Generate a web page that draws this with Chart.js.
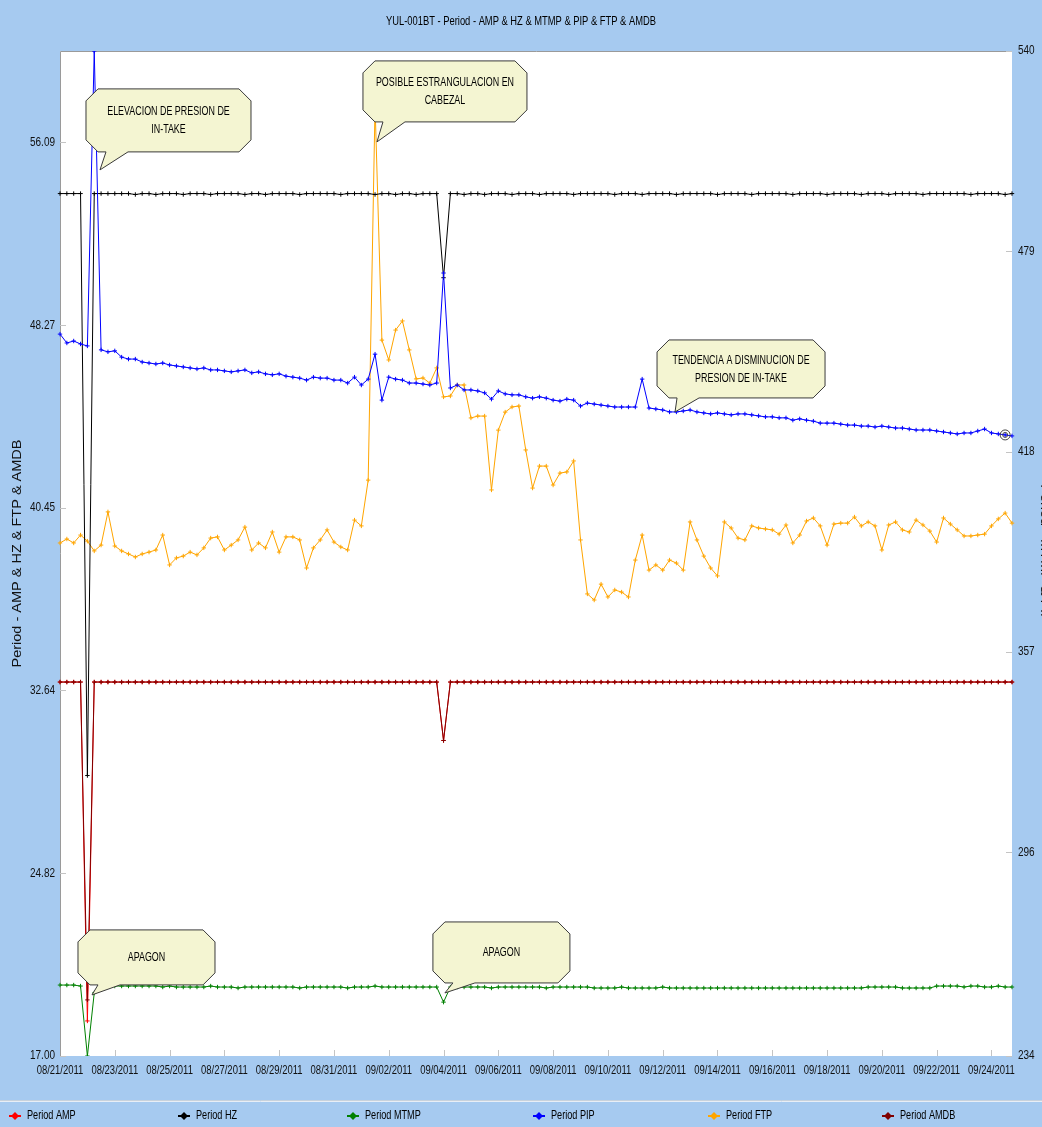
<!DOCTYPE html>
<html>
<head>
<meta charset="utf-8">
<title>YUL-001BT - Period</title>
<script src="https://cdn.jsdelivr.net/npm/chart.js@4.4.1/dist/chart.umd.min.js"></script>
<style>
  html, body { margin: 0; padding: 0; background: #a6caf0; }
  canvas { display: block; }
</style>
</head>
<body>
<canvas id="chart" width="1042" height="1127"></canvas>
<script>
// x categories: one reading every 6 hours
const days = ['08/21/2011','08/22/2011','08/23/2011','08/24/2011','08/25/2011','08/26/2011','08/27/2011',
  '08/28/2011','08/29/2011','08/30/2011','08/31/2011','09/01/2011','09/02/2011','09/03/2011','09/04/2011',
  '09/05/2011','09/06/2011','09/07/2011','09/08/2011','09/09/2011','09/10/2011','09/11/2011','09/12/2011',
  '09/13/2011','09/14/2011','09/15/2011','09/16/2011','09/17/2011','09/18/2011','09/19/2011','09/20/2011',
  '09/21/2011','09/22/2011','09/23/2011','09/24/2011'];
const hours = ['00:00', '06:00', '12:00', '18:00'];

const leftTicks = [17.00, 24.82, 32.64, 40.45, 48.27, 56.09];
const rightTicks = [234, 296, 357, 418, 479, 540];

// left axis series
const amp = [
  33.0, 33.0, 33.0, 33.0, 18.5, 33.0, 33.0, 33.0, 33.0, 33.0,
  33.0, 33.0, 33.0, 33.0, 33.0, 33.0, 33.0, 33.0, 33.0, 33.0,
  33.0, 33.0, 33.0, 33.0, 33.0, 33.0, 33.0, 33.0, 33.0, 33.0,
  33.0, 33.0, 33.0, 33.0, 33.0, 33.0, 33.0, 33.0, 33.0, 33.0,
  33.0, 33.0, 33.0, 33.0, 33.0, 33.0, 33.0, 33.0, 33.0, 33.0,
  33.0, 33.0, 33.0, 33.0, 33.0, 33.0, 30.5, 33.0, 33.0, 33.0,
  33.0, 33.0, 33.0, 33.0, 33.0, 33.0, 33.0, 33.0, 33.0, 33.0,
  33.0, 33.0, 33.0, 33.0, 33.0, 33.0, 33.0, 33.0, 33.0, 33.0,
  33.0, 33.0, 33.0, 33.0, 33.0, 33.0, 33.0, 33.0, 33.0, 33.0,
  33.0, 33.0, 33.0, 33.0, 33.0, 33.0, 33.0, 33.0, 33.0, 33.0,
  33.0, 33.0, 33.0, 33.0, 33.0, 33.0, 33.0, 33.0, 33.0, 33.0,
  33.0, 33.0, 33.0, 33.0, 33.0, 33.0, 33.0, 33.0, 33.0, 33.0,
  33.0, 33.0, 33.0, 33.0, 33.0, 33.0, 33.0, 33.0, 33.0, 33.0,
  33.0, 33.0, 33.0, 33.0, 33.0, 33.0, 33.0, 33.0, 33.0, 33.0
];
const hz = [
  53.9, 53.9, 53.9, 53.9, 29.0, 53.9, 53.9, 53.9, 53.9, 53.9,
  53.9, 53.86, 53.9, 53.9, 53.86, 53.9, 53.9, 53.9, 53.86, 53.9,
  53.9, 53.9, 53.86, 53.9, 53.9, 53.9, 53.9, 53.86, 53.9, 53.9,
  53.86, 53.9, 53.9, 53.9, 53.9, 53.86, 53.9, 53.9, 53.9, 53.9,
  53.9, 53.86, 53.9, 53.9, 53.9, 53.9, 53.86, 53.9, 53.9, 53.86,
  53.9, 53.9, 53.86, 53.9, 53.9, 53.9, 50.3, 53.9, 53.9, 53.86,
  53.9, 53.9, 53.86, 53.9, 53.9, 53.9, 53.86, 53.9, 53.9, 53.9,
  53.86, 53.9, 53.9, 53.9, 53.9, 53.86, 53.9, 53.9, 53.9, 53.9,
  53.9, 53.86, 53.9, 53.9, 53.9, 53.86, 53.9, 53.9, 53.9, 53.9,
  53.86, 53.9, 53.9, 53.9, 53.9, 53.9, 53.86, 53.9, 53.9, 53.9,
  53.9, 53.86, 53.9, 53.9, 53.9, 53.9, 53.9, 53.86, 53.9, 53.9,
  53.9, 53.9, 53.86, 53.9, 53.9, 53.9, 53.9, 53.86, 53.9, 53.9,
  53.9, 53.86, 53.9, 53.9, 53.9, 53.9, 53.86, 53.9, 53.9, 53.9,
  53.9, 53.9, 53.9, 53.86, 53.9, 53.9, 53.9, 53.9, 53.86, 53.9
];
const ftp = [
  38.95, 39.12, 38.95, 39.29, 39.03, 38.61, 38.86, 40.28, 38.82, 38.61,
  38.48, 38.35, 38.48, 38.56, 38.65, 39.29, 38.01, 38.31, 38.39, 38.56,
  38.44, 38.74, 39.16, 39.21, 38.65, 38.86, 39.08, 39.63, 38.65, 38.95,
  38.74, 39.42, 38.56, 39.21, 39.21, 39.08, 37.88, 38.74, 39.08, 39.51,
  38.99, 38.78, 38.65, 39.93, 39.68, 41.64, 57.69, 47.63, 46.78, 48.06,
  48.45, 47.21, 45.97, 46.01, 45.79, 46.44, 45.20, 45.24, 45.71, 45.71,
  44.30, 44.38, 44.38, 41.22, 43.78, 44.55, 44.77, 44.81, 42.93, 41.30,
  42.24, 42.24, 41.43, 41.94, 41.99, 42.46, 39.08, 36.77, 36.51, 37.19,
  36.64, 36.94, 36.85, 36.64, 38.22, 39.29, 37.79, 38.01, 37.79, 38.22,
  38.09, 37.79, 39.85, 39.08, 38.39, 37.88, 37.54, 39.85, 39.59, 39.16,
  39.08, 39.68, 39.59, 39.55, 39.51, 39.33, 39.72, 38.95, 39.29, 39.89,
  40.02, 39.68, 38.86, 39.76, 39.80, 39.80, 40.06, 39.68, 39.85, 39.68,
  38.65, 39.72, 39.85, 39.51, 39.42, 39.93, 39.72, 39.46, 38.99, 40.02,
  39.76, 39.51, 39.25, 39.25, 39.29, 39.33, 39.68, 39.98, 40.23, 39.80
];
const amdb = [
  33.0, 33.0, 33.0, 33.0, 19.4, 33.0, 33.0, 33.0, 33.0, 33.0,
  33.0, 33.0, 33.0, 33.0, 33.0, 33.0, 33.0, 33.0, 33.0, 33.0,
  33.0, 33.0, 33.0, 33.0, 33.0, 33.0, 33.0, 33.0, 33.0, 33.0,
  33.0, 33.0, 33.0, 33.0, 33.0, 33.0, 33.0, 33.0, 33.0, 33.0,
  33.0, 33.0, 33.0, 33.0, 33.0, 33.0, 33.0, 33.0, 33.0, 33.0,
  33.0, 33.0, 33.0, 33.0, 33.0, 33.0, 30.5, 33.0, 33.0, 33.0,
  33.0, 33.0, 33.0, 33.0, 33.0, 33.0, 33.0, 33.0, 33.0, 33.0,
  33.0, 33.0, 33.0, 33.0, 33.0, 33.0, 33.0, 33.0, 33.0, 33.0,
  33.0, 33.0, 33.0, 33.0, 33.0, 33.0, 33.0, 33.0, 33.0, 33.0,
  33.0, 33.0, 33.0, 33.0, 33.0, 33.0, 33.0, 33.0, 33.0, 33.0,
  33.0, 33.0, 33.0, 33.0, 33.0, 33.0, 33.0, 33.0, 33.0, 33.0,
  33.0, 33.0, 33.0, 33.0, 33.0, 33.0, 33.0, 33.0, 33.0, 33.0,
  33.0, 33.0, 33.0, 33.0, 33.0, 33.0, 33.0, 33.0, 33.0, 33.0,
  33.0, 33.0, 33.0, 33.0, 33.0, 33.0, 33.0, 33.0, 33.0, 33.0
];

// right axis series
const mtmp = [
  255.6, 255.6, 255.6, 255.3, 234.0, 253.2, 255.6, 255.6, 255.3, 255.3,
  255.3, 255.3, 255.3, 255.3, 255.3, 255.0, 255.3, 255.0, 255.0, 255.0,
  255.0, 255.0, 255.3, 255.0, 255.0, 255.0, 254.7, 255.0, 255.0, 255.0,
  255.0, 255.0, 255.0, 255.0, 255.0, 254.7, 255.0, 255.0, 255.0, 255.0,
  255.0, 255.0, 254.7, 255.0, 255.0, 255.0, 255.3, 255.0, 255.0, 255.0,
  255.0, 255.0, 255.0, 255.0, 255.0, 255.0, 250.4, 255.0, 255.0, 255.0,
  255.0, 255.0, 255.0, 254.7, 255.0, 255.0, 255.0, 255.0, 255.0, 255.0,
  255.0, 254.7, 255.0, 255.0, 255.0, 255.0, 255.0, 255.0, 254.7, 254.7,
  254.7, 254.7, 255.0, 254.7, 254.7, 254.7, 254.7, 254.7, 255.0, 254.7,
  254.7, 254.7, 254.7, 254.7, 254.7, 254.7, 254.7, 254.7, 254.7, 254.7,
  254.7, 254.7, 254.7, 254.7, 254.7, 254.7, 254.7, 254.7, 254.7, 254.7,
  254.7, 254.7, 254.7, 254.7, 254.7, 254.7, 254.7, 254.7, 255.0, 255.0,
  255.0, 255.0, 255.0, 254.7, 254.7, 254.7, 254.7, 254.7, 255.3, 255.3,
  255.3, 255.3, 255.0, 255.3, 255.3, 255.0, 255.0, 255.3, 255.0, 255.0
];
const pip = [
  453.8, 451.1, 451.7, 450.8, 450.2, 540.0, 449.0, 448.4, 448.7, 446.8,
  446.2, 446.2, 445.3, 445.0, 444.7, 445.0, 444.4, 444.1, 443.8, 443.5,
  443.2, 443.5, 442.9, 442.9, 442.6, 442.3, 442.6, 442.9, 442.0, 442.3,
  441.7, 441.4, 441.7, 441.0, 440.7, 440.4, 439.8, 440.7, 440.4, 440.4,
  439.8, 439.8, 438.9, 440.7, 438.3, 440.1, 447.7, 433.7, 440.7, 440.1,
  439.8, 438.9, 438.9, 438.6, 438.3, 438.9, 472.4, 437.4, 438.3, 436.8,
  436.8, 436.5, 435.9, 434.0, 436.5, 435.6, 435.3, 435.3, 434.7, 434.3,
  434.7, 434.3, 433.7, 433.4, 434.0, 433.7, 431.9, 432.8, 432.5, 432.2,
  431.9, 431.6, 431.6, 431.6, 431.6, 440.1, 431.3, 431.0, 430.7, 430.1,
  430.1, 430.4, 430.7, 430.1, 429.8, 429.5, 429.8, 429.5, 429.2, 429.5,
  429.5, 429.2, 428.9, 428.6, 428.6, 428.3, 428.3, 427.6, 428.0, 427.6,
  427.3, 426.7, 426.7, 426.7, 426.4, 426.1, 426.1, 425.8, 425.8, 425.5,
  425.8, 425.5, 425.2, 425.2, 424.9, 424.6, 424.6, 424.6, 424.3, 424.0,
  423.7, 423.4, 423.7, 423.7, 424.3, 424.9, 423.7, 423.4, 423.1, 422.8
];

const labels = days.flatMap(d => hours.map(h => d + ' ' + h));

const series = [
  { label: 'Period AMP',  data: amp,  color: '#ff0000', axis: 'yL', order: 5 },
  { label: 'Period HZ',   data: hz,   color: '#000000', axis: 'yL', order: 2 },
  { label: 'Period MTMP', data: mtmp, color: '#008000', axis: 'yR', order: 3 },
  { label: 'Period PIP',  data: pip,  color: '#0000ff', axis: 'yR', order: 0 },
  { label: 'Period FTP',  data: ftp,  color: '#ffa500', axis: 'yL', order: 4 },
  { label: 'Period AMDB', data: amdb, color: '#800000', axis: 'yL', order: 1 }
];

// callouts: tip anchored on the scales, box offset from the tip
const notes = [
  { lines: ['ELEVACION DE PRESION DE', 'IN-TAKE'], at: 5.84, axis: 'yR', value: 503.8, box: [-14, -81, 165, 63] },
  { lines: ['POSIBLE ESTRANGULACION EN', 'CABEZAL'], at: 46.28, axis: 'yL', value: 56.11, box: [-14, -81, 164, 61] },
  { lines: ['TENDENCIA A DISMINUCION DE', 'PRESION DE IN-TAKE'], at: 89.8, axis: 'yR', value: 430.1, box: [-18, -72, 168, 58] },
  { lines: ['APAGON'], at: 4.67, axis: 'yR', value: 252.6, box: [-14, -65, 137, 55] },
  { lines: ['APAGON'], at: 56.2, axis: 'yR', value: 253.2, box: [-12, -71, 137, 61] }
];

const SANS = "'Liberation Sans', Arial, sans-serif";

// the original is drawn in a tall, narrow face: squeeze text horizontally
function squeezed(ctx, text, x, y, size, sx, align) {
  ctx.save();
  ctx.translate(x, y);
  ctx.scale(sx, 1);
  ctx.font = size + 'px ' + SANS;
  ctx.textAlign = align;
  ctx.textBaseline = 'middle';
  ctx.fillText(text, 0, 0);
  ctx.restore();
}

function vertical(ctx, text, x, y, angle) {
  ctx.save();
  ctx.translate(x, y);
  ctx.rotate(angle);
  ctx.scale(1, 0.85);
  ctx.font = '14.5px ' + SANS;
  ctx.textAlign = 'center';
  ctx.textBaseline = 'middle';
  ctx.fillText(text, 0, 0);
  ctx.restore();
}

function drawCallout(ctx, tip, box, lines) {
  const [bx, by, w, h] = [tip.x + box[0], tip.y + box[1], box[2], box[3]];
  const c = 12;
  ctx.save();
  ctx.beginPath();
  ctx.moveTo(bx + c, by);
  ctx.lineTo(bx + w - c, by);
  ctx.lineTo(bx + w, by + c);
  ctx.lineTo(bx + w, by + h - c);
  ctx.lineTo(bx + w - c, by + h);
  ctx.lineTo(bx + 42, by + h);
  ctx.lineTo(tip.x, tip.y);
  ctx.lineTo(bx + 20, by + h);
  ctx.lineTo(bx + c, by + h);
  ctx.lineTo(bx, by + h - c);
  ctx.lineTo(bx, by + c);
  ctx.closePath();
  ctx.fillStyle = '#f4f5d2';
  ctx.fill();
  ctx.strokeStyle = '#3a3a3a';
  ctx.lineWidth = 1;
  ctx.stroke();
  ctx.fillStyle = '#000';
  const mid = by + h / 2;
  lines.forEach((t, i) => {
    const y = mid + (i - (lines.length - 1) / 2) * 18;
    squeezed(ctx, t, bx + w / 2, y, 13.5, 0.66, 'center');
  });
  ctx.restore();
}

const decor = {
  id: 'decor',
  beforeDraw(chart) {
    const { ctx, chartArea: a, width, height, scales } = chart;
    ctx.save();
    ctx.fillStyle = '#a6caf0';
    ctx.fillRect(0, 0, width, height);
    ctx.fillStyle = '#ffffff';
    ctx.fillRect(a.left, a.top, a.right - a.left, a.bottom - a.top);
    ctx.strokeStyle = '#9a9a9a';
    ctx.lineWidth = 1;
    ctx.beginPath();
    ctx.moveTo(a.left + 0.5, a.bottom);
    ctx.lineTo(a.left + 0.5, a.top + 0.5);
    ctx.lineTo(a.right, a.top + 0.5);
    ctx.stroke();

    // small inner tick marks
    ctx.strokeStyle = '#c4c4c4';
    ctx.beginPath();
    leftTicks.forEach(v => {
      const y = Math.round(scales.yL.getPixelForValue(v)) + 0.5;
      ctx.moveTo(a.left, y); ctx.lineTo(a.left + 6, y);
    });
    rightTicks.forEach(v => {
      const y = Math.round(scales.yR.getPixelForValue(v)) + 0.5;
      ctx.moveTo(a.right - 6, y); ctx.lineTo(a.right, y);
    });
    labels.forEach((l, i) => {
      if (i % 8 !== 0 || i === 0) return;
      const x = Math.round(scales.x.getPixelForValue(i)) + 0.5;
      ctx.moveTo(x, a.bottom); ctx.lineTo(x, a.bottom - 6);
    });
    ctx.stroke();

    // tick labels
    ctx.fillStyle = '#111';
    leftTicks.forEach(v => squeezed(ctx, v.toFixed(2), a.left - 5, scales.yL.getPixelForValue(v), 12.5, 0.8, 'right'));
    rightTicks.forEach(v => squeezed(ctx, String(v), a.right + 6, scales.yR.getPixelForValue(v), 12.5, 0.8, 'left'));
    labels.forEach((l, i) => {
      if (i % 8 !== 0) return;
      squeezed(ctx, l.slice(0, 10), scales.x.getPixelForValue(i), a.bottom + 15, 12, 0.79, 'center');
    });

    // title
    ctx.fillStyle = '#000';
    squeezed(ctx, 'YUL-001BT - Period - AMP & HZ & MTMP & PIP & FTP & AMDB', width / 2, 22, 12, 0.78, 'center');

    // axis titles
    const cy = (a.top + a.bottom) / 2;
    ctx.fillStyle = '#111';
    vertical(ctx, 'Period - AMP & HZ & FTP & AMDB', 18, cy, -Math.PI / 2);
    vertical(ctx, 'Period - MTMP & PIP', 1044, cy, Math.PI / 2);

    // legend strip
    ctx.strokeStyle = '#c8d2dc';
    ctx.beginPath(); ctx.moveTo(0, 1100.5); ctx.lineTo(width, 1100.5); ctx.stroke();
    ctx.strokeStyle = '#e8eef6';
    ctx.beginPath(); ctx.moveTo(0, 1101.5); ctx.lineTo(width, 1101.5); ctx.stroke();
    ctx.restore();
  },
  afterDraw(chart) {
    const { ctx, scales } = chart;
    notes.forEach(n => {
      const tip = { x: scales.x.getPixelForValue(n.at), y: scales[n.axis].getPixelForValue(n.value) };
      drawCallout(ctx, tip, n.box, n.lines);
    });

    // highlighted last reading of PIP
    const px = scales.x.getPixelForValue(pip.length - 2);
    const py = scales.yR.getPixelForValue(pip[pip.length - 2]);
    ctx.save();
    ctx.strokeStyle = '#444';
    ctx.lineWidth = 1;
    ctx.beginPath(); ctx.arc(px, py, 5, 0, Math.PI * 2); ctx.stroke();
    ctx.beginPath(); ctx.arc(px, py, 2.5, 0, Math.PI * 2); ctx.stroke();
    ctx.restore();

    // legend
    const slots = [9, 178, 347, 533, 708, 882];
    const y = 1116;
    ctx.save();
    series.forEach((s, i) => {
      const x = slots[i];
      ctx.strokeStyle = s.color;
      ctx.fillStyle = s.color;
      ctx.lineWidth = 2;
      ctx.beginPath(); ctx.moveTo(x, y); ctx.lineTo(x + 12, y); ctx.stroke();
      ctx.beginPath();
      ctx.moveTo(x + 6, y - 4); ctx.lineTo(x + 10, y); ctx.lineTo(x + 6, y + 4); ctx.lineTo(x + 2, y);
      ctx.closePath(); ctx.fill();
      ctx.fillStyle = '#000';
      squeezed(ctx, s.label, x + 18, y, 12, 0.76, 'left');
    });
    ctx.restore();
  }
};

new Chart(document.getElementById('chart'), {
  type: 'line',
  data: {
    labels: labels,
    datasets: series.map(s => ({
      label: s.label,
      data: s.data,
      yAxisID: s.axis,
      order: s.order,
      borderColor: s.color,
      backgroundColor: s.color,
      borderWidth: 1,
      pointStyle: 'cross',
      pointRadius: 2.2,
      pointBorderWidth: 1,
      pointBorderColor: s.color,
      tension: 0,
      fill: false
    }))
  },
  options: {
    responsive: false,
    animation: false,
    devicePixelRatio: 1,
    layout: { padding: { top: 51, left: 0, right: 0, bottom: 0 } },
    plugins: { legend: { display: false }, tooltip: { enabled: false } },
    scales: {
      x: {
        type: 'category',
        offset: false,
        grid: { display: false },
        border: { display: false },
        ticks: { display: false },
        afterFit: s => { s.height = 71; }
      },
      yL: {
        type: 'linear',
        position: 'left',
        min: 17,
        max: 60,
        grid: { display: false },
        border: { display: false },
        ticks: { display: false },
        afterFit: s => { s.width = 60; }
      },
      yR: {
        type: 'linear',
        position: 'right',
        min: 234,
        max: 540,
        grid: { display: false },
        border: { display: false },
        ticks: { display: false },
        afterFit: s => { s.width = 30; }
      }
    }
  },
  plugins: [decor]
});
</script>
</body>
</html>
